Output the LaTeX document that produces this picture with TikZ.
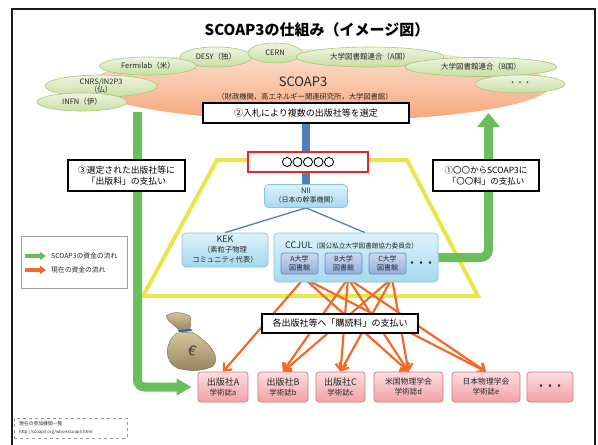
\documentclass[tikz,border=0pt]{standalone}
\usepackage{fontspec}
\setmainfont{Noto Sans CJK JP}
\newfontfamily\heavy{Noto Sans CJK JP}[FakeBold=3.5]
\usetikzlibrary{arrows.meta,shapes.geometric,shadows}

\definecolor{frame}{HTML}{1A1A1A}
\definecolor{ink}{HTML}{262626}
\definecolor{salmonL}{HTML}{FDE4D4}
\definecolor{salmonD}{HTML}{F6A47A}
\definecolor{leafL}{HTML}{EEF5DF}
\definecolor{leafD}{HTML}{C8DEA4}
\definecolor{leafB}{HTML}{A6C77A}
\definecolor{skyL}{HTML}{DDF2FB}
\definecolor{skyD}{HTML}{A4D9EE}
\definecolor{skyB}{HTML}{84C5E0}
\definecolor{lavL}{HTML}{CAD7F0}
\definecolor{lavD}{HTML}{96ADDB}
\definecolor{lavB}{HTML}{6D8AC2}
\definecolor{pinkL}{HTML}{FCDDE0}
\definecolor{pinkD}{HTML}{F2A2A7}
\definecolor{pinkB}{HTML}{D5787E}
\definecolor{flowG}{HTML}{6BBE5C}
\definecolor{flowO}{HTML}{F26A2A}
\definecolor{steel}{HTML}{4F7FBA}
\definecolor{lemon}{HTML}{E9E64C}
\definecolor{alarm}{HTML}{E8262A}
\definecolor{bagL}{HTML}{D6C7A1}
\definecolor{bagD}{HTML}{96815A}
\definecolor{bagE}{HTML}{7A6845}
\definecolor{cord}{HTML}{2F5FB0}

\newcommand\fsz[2]{\fontsize{#1}{#2}\selectfont}

\pgfdeclarelayer{base}
\pgfdeclarelayer{links}
\pgfsetlayers{base,links,main}

\tikzset{
  member/.style={ellipse, draw=leafB, line width=0.6pt, top color=leafL,
    bottom color=leafD, inner sep=0pt, text=ink, font=\fsz{7.5}{8.5}, align=center},
  callout/.style={draw=black, line width=1.1pt, fill=white, inner sep=0pt,
    text=black, align=center,
    drop shadow={opacity=0.45, shadow xshift=1.2pt, shadow yshift=-1.2pt}},
  agency/.style={draw=skyB, line width=0.7pt, rounded corners=4pt, top color=skyL,
    bottom color=skyD, inner sep=0pt, text=ink, align=center},
  library/.style={draw=lavB, line width=0.7pt, rounded corners=2.5pt, top color=lavL,
    bottom color=lavD, inner sep=0pt, text=ink, align=center, font=\fsz{7}{8.5},
    minimum width=37pt, minimum height=21pt},
  journal/.style={draw=pinkB, line width=0.7pt, rounded corners=3pt, top color=pinkL,
    bottom color=pinkD, inner sep=0pt, text=ink, align=center, minimum height=30pt,
    font=\fsz{9}{10.5}},
  greenflow/.style={draw=flowG, line width=9pt},
  fee/.style={draw=flowO, line width=2.2pt, -{Straight Barb[length=6pt,width=11pt]}},
}

\begin{document}
\begin{tikzpicture}[x=1pt,y=-1pt]
\useasboundingbox (0,0) rectangle (598,445);

% outer frame, open at the bottom
\draw[line width=2pt, frame] (12,450) -- (12,9) -- (595,9) -- (595,450);

% title
\node[font=\fsz{15}{18}\bfseries, text=black] (title) at (317,30) {SCOAP3の仕組み（イメージ図）};

% ---------- the consortium and its members ----------
\begin{pgfonlayer}{base}
\node[ellipse, minimum width=460pt, minimum height=72pt, inner sep=0pt,
      top color=salmonL, bottom color=salmonD] (hub) at (320,85) {};
\node[member, minimum width=72pt, minimum height=20pt]  (desy)     at (216,57) {DESY（独）};
\node[member, minimum width=54pt, minimum height=20pt]  (cern)     at (275,53) {CERN};
\node[member, minimum width=148pt, minimum height=20pt] (libA)     at (370,57) {大学図書館連合（A国）};
\node[member, minimum width=152pt, minimum height=19pt] (libB)     at (481,67) {大学図書館連合（B国）};
\node[member, minimum width=90pt, minimum height=18pt]  (libmore)  at (520,84) {・・・};
\node[member, minimum width=97pt, minimum height=18pt]  (fermilab) at (148,66) {Fermilab（米）};
\node[member, minimum width=112pt, minimum height=22pt] (cnrs)     at (101,86) {CNRS/IN2P3\\（仏）};
\node[member, minimum width=90pt, minimum height=18pt]  (infn)     at (82,102) {INFN（伊）};

% national framework
\draw[lemon, line width=4pt, line join=miter] (217,160) -- (407,160) -- (478,296) -- (143,296) -- cycle;
\end{pgfonlayer}

\node[font=\fsz{13}{15}, text=ink] (hubname) at (303,82) {SCOAP3};
\node[font=\fsz{7.3}{8}, text=ink] (hubnote) at (305,97) {（財政機関，高エネルギー関連研究所，大学図書館）};

% ---------- boxes ----------
\node[callout, minimum width=206pt, minimum height=20pt, font=\fsz{9}{10}] (bid) at (306,113)
  {②入札により複数の出版社等を選定};
\node[draw=alarm, line width=2pt, fill=white, minimum width=120pt, minimum height=20pt,
      inner sep=0pt, font=\fsz{10.5}{12}\heavy] (office) at (308,162) {○○○○○};

\node[agency, minimum width=83pt, minimum height=23pt, font=\fsz{7.5}{9}] (nii) at (306,196)
  {NII\\{\fsz{7}{8.5}（日本の幹事機関）}};
\node[agency, minimum width=86pt, minimum height=34pt, font=\fsz{9}{10}] (kek) at (225,250)
  {KEK\\{\fsz{7.3}{9}（素粒子物理}\\{\fsz{7.3}{9}コミュニティ代表）}};
\node[agency, minimum width=164pt, minimum height=49pt] (ccjul) at (356,257.5) {};
\node[font=\fsz{9}{10}, text=ink, anchor=west, inner sep=0pt] (ccjulname) at (285,245)
  {CCJUL{\fsz{6.6}{8}（国公私立大学図書館協力委員会）}};
\node[library] (ua) at (299.5,263.5) {A大学\\図書館};
\node[library] (ub) at (343.5,263.5) {B大学\\図書館};
\node[library] (uc) at (387.5,263.5) {C大学\\図書館};
\node[font=\fsz{9}{10}\bfseries, text=ink] (umore) at (421,264) {・・・};

\node[callout, minimum width=117pt, minimum height=31pt, font=\fsz{8.8}{11}] (pay3) at (126.5,175.5)
  {③選定された出版社等に\\「出版料」の支払い};
\node[callout, minimum width=106pt, minimum height=31pt, font=\fsz{8.5}{11}] (pay1) at (486,175.5)
  {①〇〇からSCOAP3に\\「〇〇料」の支払い};
\node[callout, minimum width=156pt, minimum height=19pt, font=\fsz{9}{10}] (subs) at (340,323.5)
  {各出版社等へ「購読料」の支払い};

% publishers
\node[journal, minimum width=50pt] (pa) at (223,387)   {出版社A\\{\fsz{7.5}{9}学術誌a}};
\node[journal, minimum width=50pt] (pb) at (283,387)   {出版社B\\{\fsz{7.5}{9}学術誌b}};
\node[journal, minimum width=49pt] (pc) at (340.5,387) {出版社C\\{\fsz{7.5}{9}学術誌c}};
\node[journal, minimum width=69pt, font=\fsz{7.8}{10}] (aps) at (408.5,387) {米国物理学会\\{\fsz{7.5}{9}学術誌d}};
\node[journal, minimum width=68pt, font=\fsz{7.8}{10}] (jps) at (486,387)   {日本物理学会\\{\fsz{7.5}{9}学術誌e}};
\node[journal, minimum width=46pt, font=\fsz{9}{10}\bfseries] (pmore) at (550,387) {・・・};

% ---------- connectors ----------
\coordinate (payout) at (137.5,112);
\coordinate (payin) at (488.5,113);
\begin{pgfonlayer}{links}
\draw[steel, line width=8pt] (bid.south) -- (nii.north);
\draw[steel, line width=1.3pt] (nii.south) -- (kek.north);
\draw[steel, line width=1.3pt] (nii.south) -- ([xshift=9pt]ccjul.north);

% subscription payments from each university library
\foreach \u/\p in {ua/pa, ua/aps, ua/jps,
                   ub/pb, ub/pc, ub/aps, ub/jps,
                   uc/pb, uc/pc, uc/aps}
  \draw[fee] ([xshift=4.5pt,yshift=-4pt]\u.south) -- (\p.north);

\draw[greenflow, rounded corners=7pt, -{Triangle[length=15pt,width=16pt]}, shorten >=6pt]
  (payout) -- (payout |- pa.west) -- (pa.west);
\draw[greenflow, rounded corners=8pt, -{Triangle[length=14pt,width=22pt]}]
  (ccjul.east) -- (payin |- ccjul.east) -- (payin);
\end{pgfonlayer}

% ---------- legend ----------
\node[draw=gray!75, line width=0.6pt, fill=white, minimum width=106pt, minimum height=52pt,
      inner sep=0pt, drop shadow={opacity=0.2, shadow xshift=1pt, shadow yshift=-1pt}] (legend) at (74,262) {};
\coordinate (keyGa) at (25,256);
\coordinate (keyGb) at (46,256);
\coordinate (keyOa) at (25,270);
\coordinate (keyOb) at (46,270);
\draw[flowG, line width=3.2pt, -{Triangle[length=6pt,width=8pt]}] (keyGa) -- (keyGb);
\draw[flowO, line width=3.2pt, -{Triangle[length=6pt,width=8pt]}] (keyOa) -- (keyOb);
\node[anchor=west, inner sep=0pt, font=\fsz{6.8}{8}, text=ink] (keyGtext) at (51,256) {SCOAP3の資金の流れ};
\node[anchor=west, inner sep=0pt, font=\fsz{6.8}{8}, text=ink] (keyOtext) at (51,270) {現在の資金の流れ};

% ---------- money bag ----------
\shade[top color=bagL, bottom color=bagD, draw=bagE, line width=0.4pt]
  (177,333) .. controls (164,342) and (164,362) .. (177,368)
  .. controls (189,372) and (205,371) .. (213,366)
  .. controls (221,358) and (211,343) .. (192,332) -- cycle;
\shade[top color=bagL, bottom color=bagD, draw=bagE, line width=0.4pt]
  (181,332) .. controls (176,326) and (168,322) .. (166,316)
  .. controls (172,311) and (182,312) .. (190,316)
  .. controls (192,322) and (190,328) .. (189,331) -- cycle;
\draw[cord, line width=2pt, line cap=round] (179,331) -- (191,330);
\node[rotate=-15, font=\fsz{14}{14}, text=black!80, inner sep=0pt] (euro) at (193,351) {€};

% ---------- source note ----------
\node[draw=gray!80, dashed, line width=0.5pt, minimum width=113pt, minimum height=20pt,
      inner sep=0pt] (note) at (70.5,428) {};
\node[anchor=west, inner sep=0pt, font=\fsz{4.8}{5.5}, text=ink] (notehead) at (19,424) {現在の参加機関一覧};
\node[anchor=west, inner sep=0pt, font=\fsz{4.3}{5}, text=ink] (noteurl) at (19,432) {http://scoap3.org/whoisscoap3.html};
\end{tikzpicture}
\end{document}
